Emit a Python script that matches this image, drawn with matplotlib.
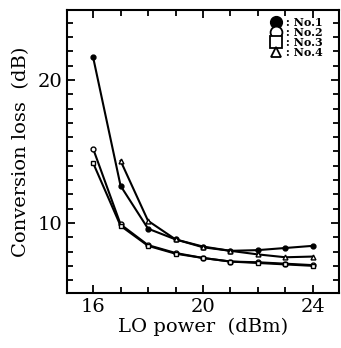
import matplotlib
matplotlib.use("Agg")
import matplotlib.pyplot as plt
from matplotlib.ticker import MultipleLocator

# data
lo_power = [16, 17, 18, 19, 20, 21, 22, 23, 24]
no1 = [21.6, 12.6, 9.6, 8.85, 8.35, 8.05, 8.1, 8.25, 8.4]
no2 = [15.2, 9.9, 8.45, 7.9, 7.55, 7.3, 7.25, 7.15, 7.05]
no3 = [14.2, 9.8, 8.4, 7.85, 7.55, 7.3, 7.2, 7.1, 7.0]
lo_power4 = [17, 18, 19, 20, 21, 22, 23, 24]
no4 = [14.35, 10.15, 8.85, 8.3, 8.05, 7.8, 7.6, 7.65]

plt.rcParams['font.family'] = ['DejaVu Serif']

fig = plt.figure(figsize=(3.41, 3.48), dpi=100)
ax = fig.add_axes([67 / 341, 1 - 293 / 348, 272 / 341, 283 / 348])

ax.plot(lo_power, no1, 'k-', marker='o', ms=3.5, mfc='k', lw=1.5)
ax.plot(lo_power, no2, 'k-', marker='o', ms=3.5, mfc='w', lw=1.5)
ax.plot(lo_power, no3, 'k-', marker='s', ms=3.5, mfc='w', lw=1.5)
ax.plot(lo_power4, no4, 'k-', marker='^', ms=3.5, mfc='w', lw=1.5)

# legend (markers only)
h1, = ax.plot([], [], 'ko', ms=8.5, mfc='k', ls='none')
h2, = ax.plot([], [], 'ko', ms=8.5, mfc='w', mew=1.3, ls='none')
h3, = ax.plot([], [], 'ks', ms=8.5, mfc='w', mew=1.3, ls='none')
h4, = ax.plot([], [], 'k^', ms=7.5, mfc='w', mew=1.3, ls='none')
leg = ax.legend([h1, h2, h3, h4], [' : No.1', ' : No.2', ' : No.3', ' : No.4'],
                loc='upper right', bbox_to_anchor=(0.965, 1.0), frameon=False,
                handlelength=0.8, handletextpad=0.1, labelspacing=-0.1,
                borderpad=0.15, prop={'size': 8, 'weight': 'bold'})

ax.set_xlim(15.05, 24.95)
ax.set_ylim(5.1, 24.9)
ax.xaxis.set_major_locator(MultipleLocator(4))
ax.xaxis.set_minor_locator(MultipleLocator(1))
ax.yaxis.set_major_locator(MultipleLocator(10))
ax.yaxis.set_minor_locator(MultipleLocator(1))
ax.tick_params(which='both', direction='in', top=True, right=True, width=1.3)
ax.tick_params(which='major', length=6, labelsize=14)
ax.tick_params(which='minor', length=4)
for s in ax.spines.values():
    s.set_linewidth(1.5)

ax.set_xlabel('LO power  (dBm)', fontsize=14, labelpad=1)
ax.set_ylabel('Conversion loss  (dB)', fontsize=14, labelpad=5)

fig.savefig('out.png', dpi=100)
